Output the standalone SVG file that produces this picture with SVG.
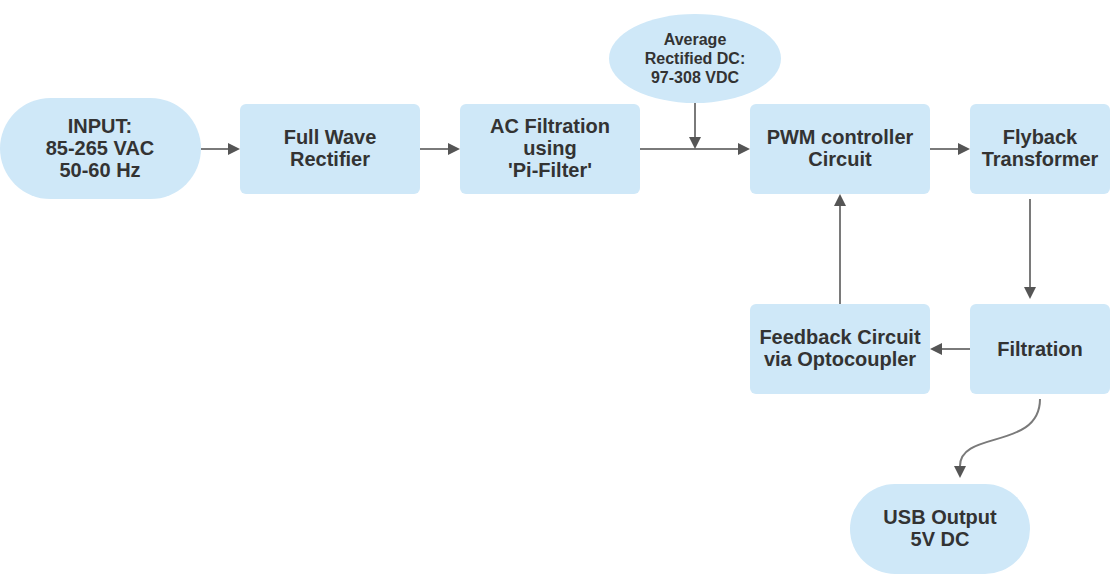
<svg xmlns="http://www.w3.org/2000/svg" width="1119" height="580" viewBox="0 0 1119 580">
<style>
.n{fill:#cfe8f8;stroke:none}
.t{font-family:"Liberation Sans",Arial,sans-serif;font-weight:bold;font-size:20px;fill:#333333;text-anchor:middle}
.s{font-size:16px}
.c{fill:none;stroke:#7a7a7a;stroke-width:2}
</style>
<defs>
<marker id="ah" markerUnits="userSpaceOnUse" markerWidth="12" markerHeight="12" viewBox="0 0 12 12" refX="0" refY="6" orient="auto">
<path d="M0,0 L12,6 L0,12 Z" fill="#555555"/>
</marker>
</defs>
<rect width="1119" height="580" fill="#ffffff"/>
<g id="connectors">
<path class="c" d="M201,149 H228" marker-end="url(#ah)"/>
<path class="c" d="M420,149 H448" marker-end="url(#ah)"/>
<path class="c" d="M640,149 H738" marker-end="url(#ah)"/>
<path class="c" d="M695,103 V137" marker-end="url(#ah)"/>
<path class="c" d="M930,149 H958" marker-end="url(#ah)"/>
<path class="c" d="M1030,199 V287" marker-end="url(#ah)"/>
<path class="c" d="M970,349 H942" marker-end="url(#ah)"/>
<path class="c" d="M840,304 V206" marker-end="url(#ah)"/>
<path class="c" d="M1040,399 C1040,450 960,430 960,466" marker-end="url(#ah)"/>
</g>
<g id="input">
<rect class="n" x="0" y="98" width="201" height="101" rx="50.5"/>
<text class="t" x="100" y="133">INPUT:</text>
<text class="t" x="100" y="155">85-265 VAC</text>
<text class="t" x="100" y="177">50-60 Hz</text>
</g>
<g id="rectifier">
<rect class="n" x="240" y="104" width="180" height="90" rx="6"/>
<text class="t" x="330" y="144">Full Wave</text>
<text class="t" x="330" y="166">Rectifier</text>
</g>
<g id="acfilter">
<rect class="n" x="460" y="104" width="180" height="90" rx="6"/>
<text class="t" x="550" y="133">AC Filtration</text>
<text class="t" x="550" y="155">using</text>
<text class="t" x="550" y="177">'Pi-Filter'</text>
</g>
<g id="avgdc">
<ellipse class="n" cx="695" cy="58.5" rx="86" ry="44.5"/>
<text class="t s" x="695" y="45">Average</text>
<text class="t s" x="695" y="64">Rectified DC:</text>
<text class="t s" x="695" y="83">97-308 VDC</text>
</g>
<g id="pwm">
<rect class="n" x="750" y="104" width="180" height="90" rx="6"/>
<text class="t" x="840" y="144">PWM controller</text>
<text class="t" x="840" y="166">Circuit</text>
</g>
<g id="flyback">
<rect class="n" x="970" y="104" width="140" height="90" rx="6"/>
<text class="t" x="1040" y="144">Flyback</text>
<text class="t" x="1040" y="166">Transformer</text>
</g>
<g id="filtration">
<rect class="n" x="970" y="304" width="140" height="90" rx="6"/>
<text class="t" x="1040" y="356">Filtration</text>
</g>
<g id="feedback">
<rect class="n" x="750" y="304" width="180" height="90" rx="6"/>
<text class="t" x="840" y="344">Feedback Circuit</text>
<text class="t" x="840" y="366">via Optocoupler</text>
</g>
<g id="usb">
<rect class="n" x="850" y="484" width="180" height="90" rx="45"/>
<text class="t" x="940" y="524">USB Output</text>
<text class="t" x="940" y="546">5V DC</text>
</g>
</svg>
